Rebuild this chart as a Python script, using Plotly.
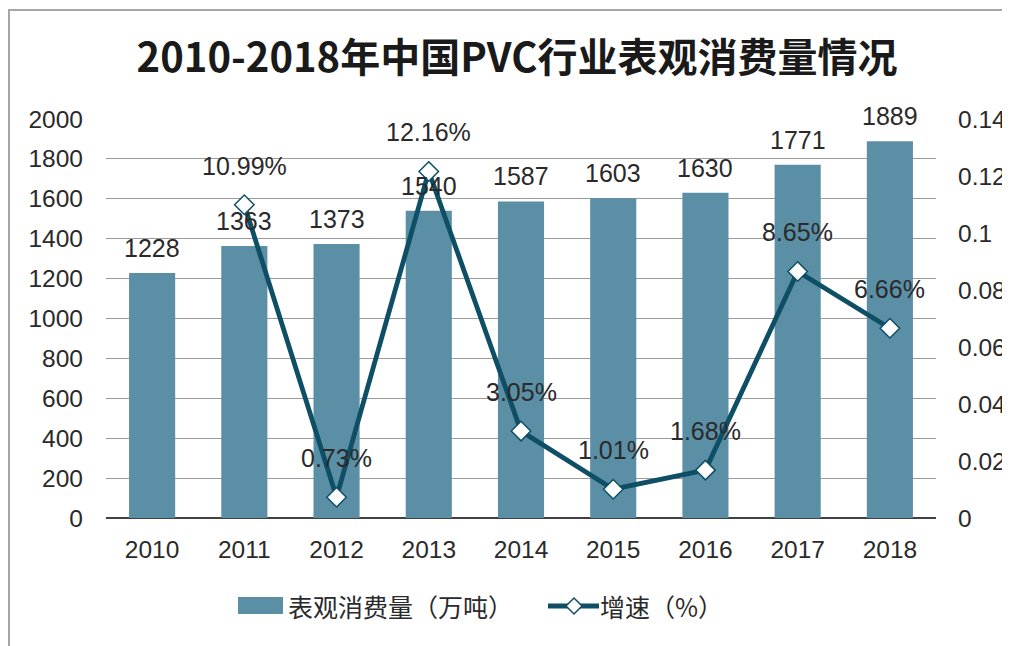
import plotly.graph_objects as go

years = ["2010", "2011", "2012", "2013", "2014", "2015", "2016", "2017", "2018"]
consumption = [1228, 1363, 1373, 1540, 1587, 1603, 1630, 1771, 1889]
growth_years = ["2011", "2012", "2013", "2014", "2015", "2016", "2017", "2018"]
growth = [0.1099, 0.0073, 0.1216, 0.0305, 0.0101, 0.0168, 0.0865, 0.0666]
growth_labels = ["10.99%", "0.73%", "12.16%", "3.05%", "1.01%", "1.68%", "8.65%", "6.66%"]
left_ticks = [0, 200, 400, 600, 800, 1000, 1200, 1400, 1600, 1800, 2000]
right_ticks = [0, 0.02, 0.04, 0.06, 0.08, 0.1, 0.12, 0.14]
right_tick_text = ["0", "0.02", "0.04", "0.06", "0.08", "0.1", "0.12", "0.14"]
bar_name = "表观消费量（万吨）"
line_name = "增速（%）"

BAR = "#5b8fa6"
LINE = "#0e4f66"
TXT = "#2a2a2a"
FONT = "Liberation Sans, Arial, sans-serif"
CJK = "Noto Sans CJK SC, Liberation Sans, sans-serif"

OFF = 8  # page body margin offset
W, H = 1010, 646
# target plot box in screen pixels: x 106..936, y 119..518
L = 106 - OFF
T = 119 - OFF
R = W - (936 - OFF)
B = H - (518 - OFF)
PW, PH = W - L - R, H - T - B


def px(xs):
    return (xs - OFF - L) / PW


def py(ys):
    return (H - B - (ys - OFF)) / PH


fig = go.Figure()
fig.add_trace(go.Bar(x=years, y=consumption, name=bar_name,
                     marker=dict(color=BAR, line=dict(width=0)), width=0.5, yaxis="y"))
fig.add_trace(go.Scatter(x=growth_years, y=growth, name=line_name, yaxis="y2",
                         mode="lines+markers",
                         line=dict(color=LINE, width=4.8),
                         marker=dict(symbol="diamond", size=15, color="white",
                                     line=dict(color=LINE, width=1.5))))

annotations = []
for i, v in enumerate(consumption):
    annotations.append(dict(x=i, y=v, xref="x", yref="y", text=str(v), showarrow=False,
                            yshift=25, font=dict(family=FONT, size=25, color=TXT)))
for gx, v, t in zip(growth_years, growth, growth_labels):
    i = years.index(gx)
    annotations.append(dict(x=i, y=v, xref="x", yref="y2", text=t, showarrow=False,
                            yshift=39, font=dict(family=FONT, size=25, color=TXT)))

# custom legend
ly = py(606)
annotations.append(dict(x=px(286), y=ly, xref="paper", yref="paper", text=bar_name,
                        showarrow=False, xanchor="left", yanchor="middle",
                        font=dict(family=CJK, size=25, color=TXT)))
annotations.append(dict(x=px(598), y=ly, xref="paper", yref="paper", text=line_name,
                        showarrow=False, xanchor="left", yanchor="middle",
                        font=dict(family=CJK, size=25, color=TXT)))

shapes = [
    dict(type="rect", xref="paper", yref="paper",
         x0=px(9), x1=1.2, y0=-0.5, y1=py(10),
         line=dict(color="#a6a6a6", width=2), fillcolor="rgba(0,0,0,0)", layer="below"),
    dict(type="rect", xref="paper", yref="paper", x0=px(238), x1=px(283),
         y0=py(614), y1=py(597), line=dict(width=0), fillcolor=BAR),
    dict(type="line", xref="paper", yref="paper", x0=px(548), x1=px(599),
         y0=ly, y1=ly, line=dict(color=LINE, width=4.8)),
]
dx0, dy0 = 574, 606
d = [(dx0 - 8, dy0), (dx0, dy0 - 8), (dx0 + 8, dy0), (dx0, dy0 + 8)]
path = "M " + " L ".join(f"{px(a):.5f},{py(b):.5f}" for a, b in d) + " Z"
shapes.append(dict(type="path", xref="paper", yref="paper", path=path,
                   line=dict(color=LINE, width=1.5), fillcolor="white"))

fig.update_layout(
    width=W, height=H,
    margin=dict(l=L, r=R, t=T, b=B),
    paper_bgcolor="white", plot_bgcolor="white",
    title=dict(text="<b>2010-2018年中国PVC行业表观消费量情况</b>", x=px(517), xanchor="center",
               y=1 - (58 - OFF) / H, yanchor="middle", xref="paper",
               font=dict(family=CJK, size=40, color="#1a1a1a")),
    xaxis=dict(type="category", range=[-0.5, 8.5], showgrid=False, ticks="", showline=False,
               tickfont=dict(family=FONT, size=24.5, color=TXT), ticklabelstandoff=14),
    yaxis=dict(range=[0, 2000], tickvals=left_ticks, showgrid=True, gridcolor="#9a9a9a",
               gridwidth=1, zeroline=True, zerolinecolor="#404040", zerolinewidth=2,
               tickfont=dict(family=FONT, size=24.5, color=TXT), ticklabelstandoff=22),
    yaxis2=dict(range=[0, 0.14], tickvals=right_ticks, ticktext=right_tick_text,
                overlaying="y", side="right", showgrid=False, zeroline=False,
                tickfont=dict(family=FONT, size=24.5, color=TXT), ticklabelstandoff=21),
    showlegend=False,
    annotations=annotations,
    shapes=shapes,
)

fig.write_html("out.html")
